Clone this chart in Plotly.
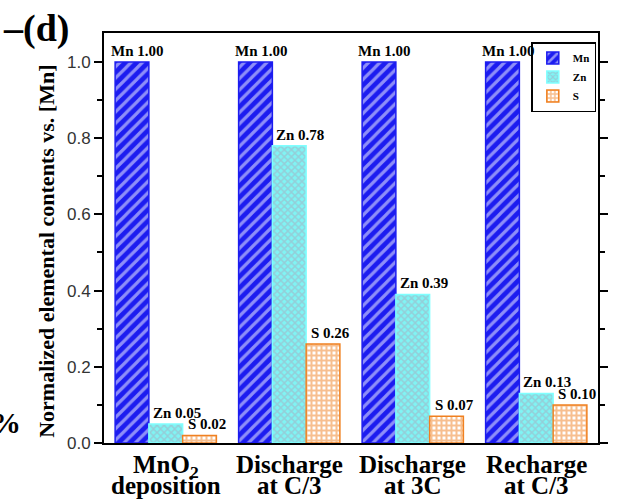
import plotly.graph_objects as go

categories = ["MnO<sub>2</sub>", "Discharge", "Discharge", "Recharge"]
cat_line2 = ["deposition", "at C/3", "at 3C", "at C/3"]
elements = ["Mn", "Zn", "S"]
mn_vals = [1.00, 1.00, 1.00, 1.00]
zn_vals = [0.05, 0.78, 0.39, 0.13]
s_vals = [0.02, 0.26, 0.07, 0.10]
y_ticks = [0.0, 0.2, 0.4, 0.6, 0.8, 1.0]
y_title = "Normalized elemental contents vs. [Mn]"

series = [mn_vals, zn_vals, s_vals]
x_pos = list(range(len(categories)))

styles = {
    "Mn": dict(color="#1c1cf0", line="#1c1cf0",
               pattern=dict(shape="/", fgcolor="white", bgcolor="#1c1cf0", size=8, solidity=0.4)),
    "Zn": dict(color="#80f4f4", line="#80ffff",
               pattern=dict(shape="x", fgcolor="#a8a8bc", bgcolor="#80f4f4", size=5, solidity=0.5)),
    "S": dict(color="#f08020", line="#f08020",
              pattern=dict(shape="+", fgcolor="#f08020", bgcolor="white", size=5, solidity=0.65)),
}

serif = "Liberation Serif, Times New Roman, serif"
sans = "Liberation Sans, Arial, sans-serif"

fig = go.Figure()
for name, vals in zip(elements, series):
    st = styles[name]
    fig.add_trace(go.Bar(
        x=x_pos, y=vals, name=name,
        marker=dict(color=st["color"], line=dict(color=st["line"], width=1.5),
                    pattern=dict(fillmode="overlay", **st["pattern"])),
    ))

bargap = 0.18
w = (1 - bargap) / 3
label_shift = {"Mn": -6, "Zn": 2, "S": 3}
annotations = []
for j, (name, vals) in enumerate(zip(elements, series)):
    for i, v in enumerate(vals):
        left = i - (1 - bargap) / 2 + j * w
        annotations.append(dict(
            x=left, y=v, xref="x", yref="y", xanchor="left", yanchor="bottom",
            text=f"{name} {v:.2f}", showarrow=False, xshift=label_shift[name], yshift=1,
            font=dict(family=serif, size=15, color="black", weight="bold")))

for i in x_pos:
    annotations.append(dict(x=i, y=0, xref="x", yref="paper", xanchor="center", yanchor="top",
                            text=categories[i], showarrow=False, yshift=-6,
                            font=dict(family=serif, size=25, color="black", weight="bold")))
    annotations.append(dict(x=i, y=0, xref="x", yref="paper", xanchor="center", yanchor="top",
                            text=cat_line2[i], showarrow=False, yshift=-27,
                            font=dict(family=serif, size=25, color="black", weight="bold")))

annotations.append(dict(x=-0.118, y=0.468, xref="paper", yref="paper", xanchor="center", yanchor="middle",
                        text=y_title, textangle=-90, showarrow=False,
                        font=dict(family=serif, size=22, color="black", weight="bold")))
annotations.append(dict(x=-0.2088, y=1.01, xref="paper", yref="paper", xanchor="left", yanchor="middle",
                        text="–(d)", showarrow=False,
                        font=dict(family=serif, size=38, color="black", weight="bold")))
annotations.append(dict(x=-0.233, y=0.05, xref="paper", yref="paper", xanchor="left", yanchor="middle",
                        text="%", showarrow=False,
                        font=dict(family=serif, size=30, color="black", weight="bold")))

fig.update_layout(
    width=620, height=504,
    margin=dict(l=104, r=18, t=33, b=61),
    paper_bgcolor="white", plot_bgcolor="white",
    barmode="group", bargap=bargap, bargroupgap=0,
    showlegend=True,
    legend=dict(x=0.865, y=0.978, xanchor="left", yanchor="top",
                bordercolor="black", borderwidth=1.5, bgcolor="white",
                font=dict(family=serif, size=11, color="black", weight="bold"),
                itemwidth=30, tracegroupgap=0),
    annotations=annotations,
)
fig.update_xaxes(
    range=[-0.5, 3.5], tickvals=x_pos, ticktext=["", "", "", ""],
    showline=True, linecolor="black", linewidth=2, mirror=True, ticks="",
    showgrid=False, zeroline=False,
)
fig.update_yaxes(
    range=[0, 1.076], tickvals=y_ticks, ticktext=[f"{t:.1f}" for t in y_ticks],
    showline=True, linecolor="black", linewidth=2, mirror="ticks",
    ticks="outside", ticklen=8, tickwidth=1.5, tickcolor="black",
    minor=dict(dtick=0.1, ticks="outside", ticklen=5, tickwidth=1.5, tickcolor="black"),
    tickfont=dict(family=sans, size=17, color="#333"),
    showgrid=False, zeroline=False,
)

fig.write_html("out.html")
